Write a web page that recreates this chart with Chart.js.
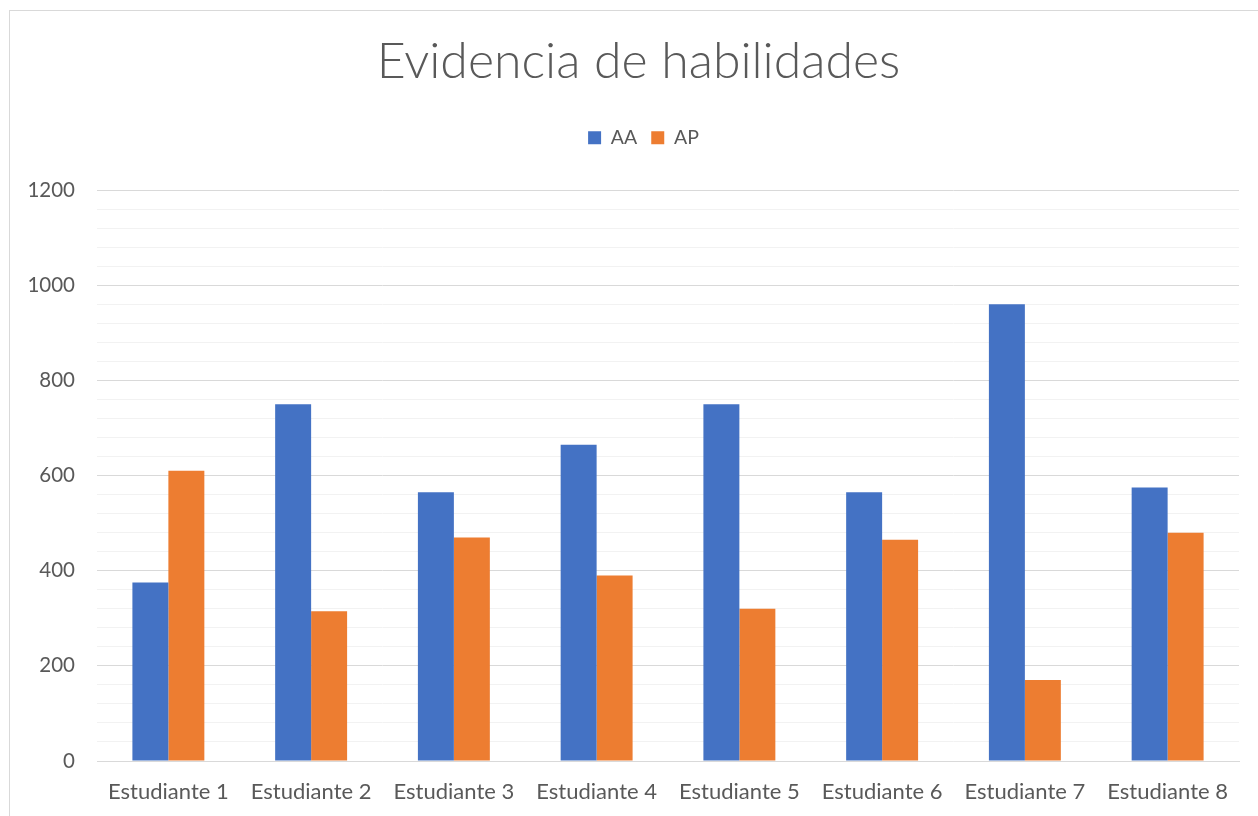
<!DOCTYPE html>
<html>
<head>
<meta charset="utf-8">
<script src="https://cdn.jsdelivr.net/npm/chart.js@4.4.1/dist/chart.umd.min.js"></script>
<style>
  html, body { margin: 0; padding: 0; background: #fff; overflow: hidden; }
  #wrap { position: absolute; left: 0; top: 0; width: 1258px; height: 816px; }
  #frame { position: absolute; left: 9px; top: 10px; width: 1300px; height: 900px; border: 1px solid #d9d9d9; box-sizing: border-box; }
</style>
</head>
<body>
<div id="frame"></div>
<div id="wrap"><canvas id="c" width="1258" height="816"></canvas></div>
<script>
const categories = ["Estudiante 1","Estudiante 2","Estudiante 3","Estudiante 4","Estudiante 5","Estudiante 6","Estudiante 7","Estudiante 8"];
const seriesAA = [375, 750, 565, 665, 750, 565, 960, 575];
const seriesAP = [610, 315, 470, 390, 320, 465, 170, 480];
const yMajorTicks = [0, 200, 400, 600, 800, 1000, 1200];
const yMinorStep = 40;

const FONT = "Lato, 'Open Sans', sans-serif";
const TEXT = "#595959";

const legendMargin = {
  id: 'legendMargin',
  beforeInit(chart) {
    const orig = chart.legend.fit;
    chart.legend.fit = function () {
      orig.bind(chart.legend)();
      this.height += 32.6;
    };
  },
  beforeDraw(chart) {
    if (chart.titleBlock && !chart.titleBlock._shifted) {
      chart.titleBlock.left += 19; chart.titleBlock.right += 19; chart.titleBlock._shifted = true;
    }
    if (chart.legend && !chart.legend._shifted) {
      chart.legend.left += 24; chart.legend.right += 24; chart.legend._shifted = true;
    }
  }
};

new Chart(document.getElementById('c'), {
  type: 'bar',
  data: {
    labels: categories,
    datasets: [
      { label: 'AA', data: seriesAA, backgroundColor: '#4472C4', borderWidth: 0 },
      { label: 'AP', data: seriesAP, backgroundColor: '#ED7D31', borderWidth: 0 }
    ]
  },
  options: {
    responsive: false,
    animation: false,
    devicePixelRatio: 1,
    layout: { padding: { left: 0, right: 19, top: 0, bottom: 0 } },
    datasets: { bar: { categoryPercentage: 0.504, barPercentage: 1.0 } },
    plugins: {
      title: {
        display: true,
        text: 'Evidencia de habilidades',
        color: TEXT,
        font: { family: FONT, size: 50, weight: 300 },
        padding: { top: 32, bottom: 22 }
      },
      legend: {
        display: true,
        position: 'top',
        labels: {
          color: TEXT,
          font: { family: FONT, size: 19.5 },
          boxWidth: 13,
          boxHeight: 13,
          padding: 14
        }
      },
      tooltip: { enabled: false }
    },
    scales: {
      x: {
        grid: { display: false, drawTicks: false },
        border: { display: true, color: '#d9d9d9', width: 1 },
        ticks: { color: TEXT, font: { family: FONT, size: 22 }, padding: 18, maxRotation: 0, autoSkip: false },
        afterFit(scale) { scale.height = 55; }
      },
      y: {
        min: 0,
        max: 1200,
        ticks: {
          stepSize: yMinorStep,
          autoSkip: false,
          color: TEXT,
          font: { family: FONT, size: 20.5 },
          padding: 22,
          callback: (v) => yMajorTicks.includes(v) ? String(v) : ''
        },
        grid: {
          drawTicks: false,
          color: (ctx) => (ctx.tick && yMajorTicks.includes(ctx.tick.value)) ? '#d9d9d9' : '#f2f2f2',
          lineWidth: 1
        },
        border: { display: false },
        afterFit(scale) { scale.width = 97; }
      }
    }
  },
  plugins: [legendMargin]
});
</script>
</body>
</html>
